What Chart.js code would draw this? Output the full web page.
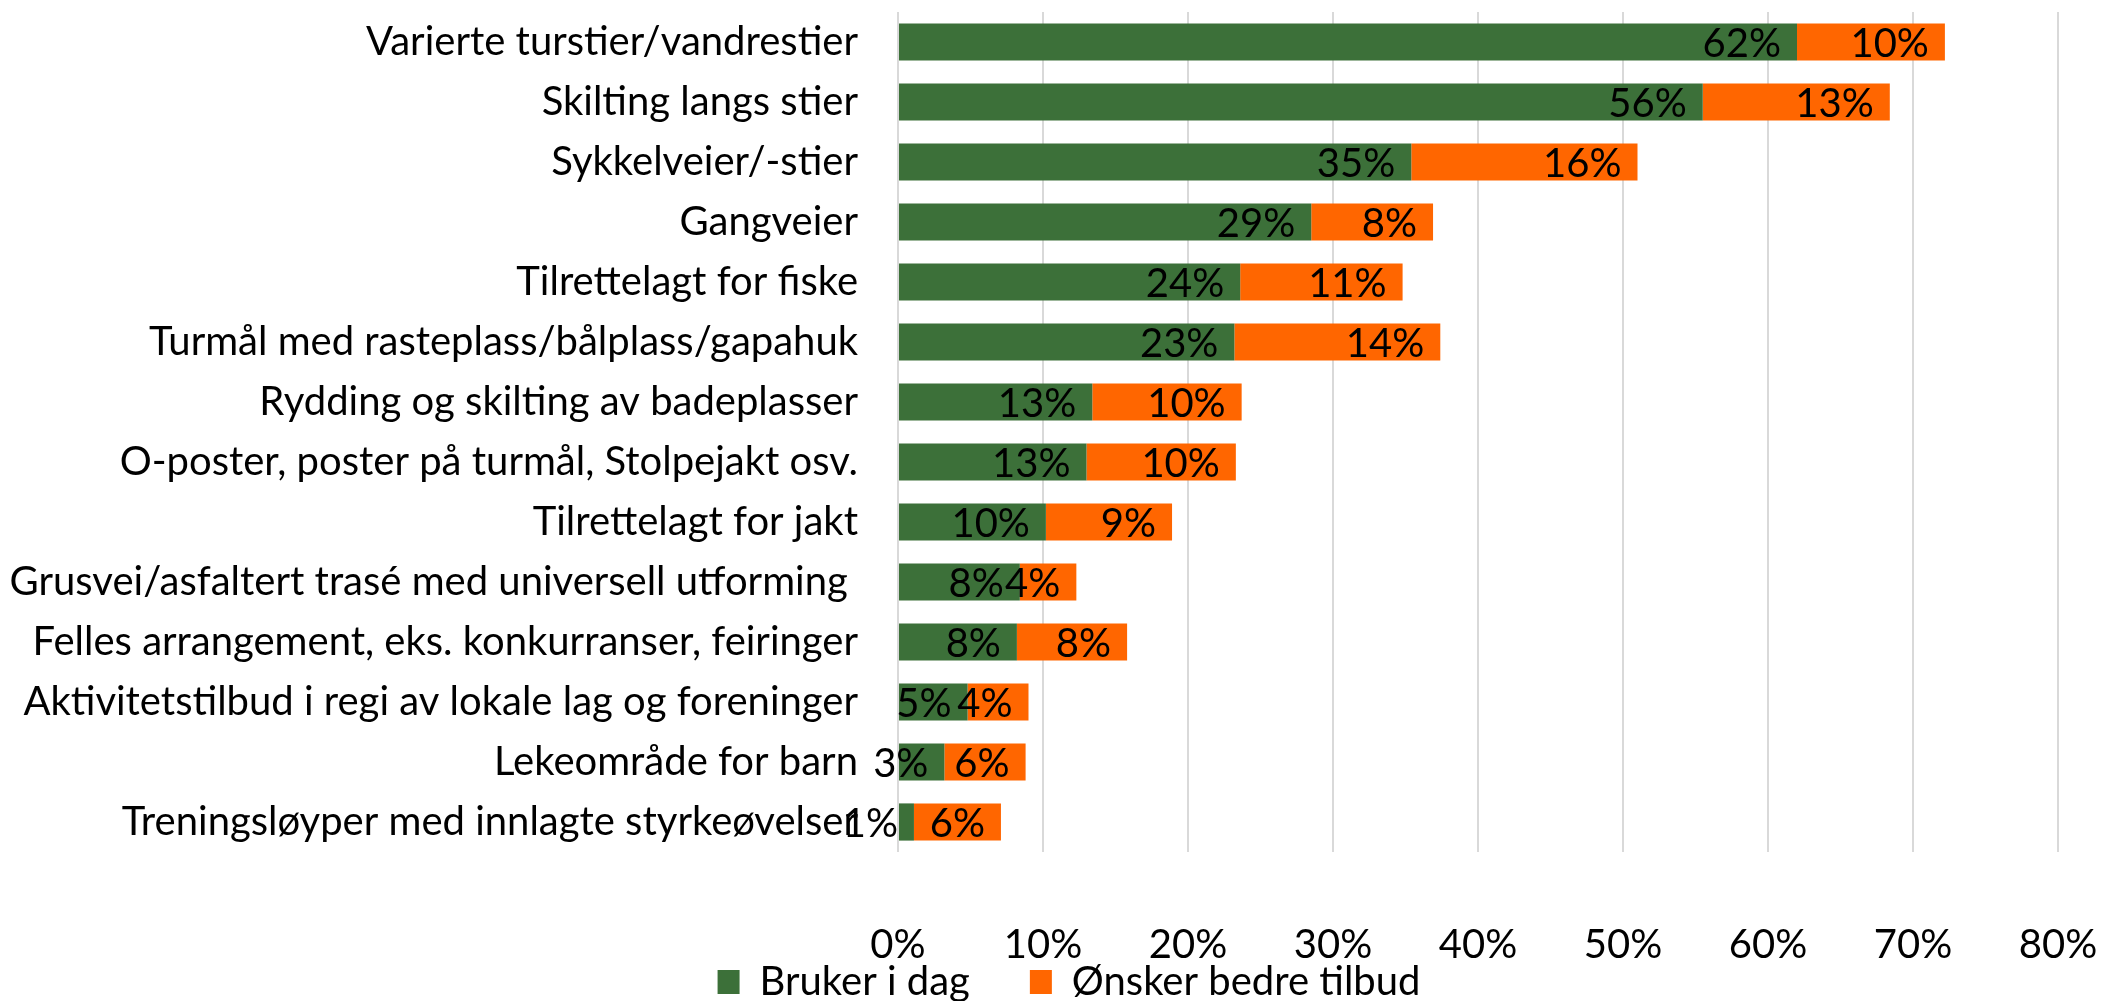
<!DOCTYPE html>
<html>
<head>
<meta charset="utf-8">
<script src="https://cdn.jsdelivr.net/npm/chart.js@4.4.1/dist/chart.umd.min.js"></script>
<style>
  html, body { margin: 0; padding: 0; background: #fff; }
  #wrap { width: 2101px; height: 1001px; }
</style>
</head>
<body>
<div id="wrap"><canvas id="chart" width="2101" height="1001"></canvas></div>
<script>
const categories = [
    'Varierte turstier/vandrestier',
    'Skilting langs stier',
    'Sykkelveier/-stier',
    'Gangveier',
    'Tilrettelagt for fiske',
    'Turmål med rasteplass/bålplass/gapahuk',
    'Rydding og skilting av badeplasser',
    'O-poster, poster på turmål, Stolpejakt osv.',
    'Tilrettelagt for jakt',
    'Grusvei/asfaltert trasé med universell utforming ',
    'Felles arrangement, eks. konkurranser, feiringer',
    'Aktivitetstilbud i regi av lokale lag og foreninger',
    'Lekeområde for barn',
    'Treningsløyper med innlagte styrkeøvelser'
];
const brukerIDag = [62.0, 55.5, 35.4, 28.5, 23.6, 23.2, 13.4, 13.0, 10.2, 8.4, 8.2, 4.8, 3.2, 1.1];
const onskerBedre = [10.2, 12.9, 15.6, 8.4, 11.2, 14.2, 10.3, 10.3, 8.7, 3.9, 7.6, 4.2, 5.6, 6.0];
const xTicks = [0, 10, 20, 30, 40, 50, 60, 70, 80];

const fontFamily = 'Lato, "Open Sans", sans-serif';
const fontSize = 40;

// values drawn at the inside end of every bar segment
const barLabels = {
    id: 'barLabels',
    afterDatasetsDraw(chart) {
        const ctx = chart.ctx;
        ctx.save();
        ctx.font = fontSize + 'px ' + fontFamily;
        ctx.fillStyle = '#000';
        ctx.textAlign = 'right';
        ctx.textBaseline = 'middle';
        chart.data.datasets.forEach((ds, i) => {
            chart.getDatasetMeta(i).data.forEach((bar, j) => {
                ctx.fillText(Math.round(ds.data[j]) + '%', bar.x - 16, bar.y + 2);
            });
        });
        ctx.restore();
    }
};

// legend padding gives the wide gap between items, pull the box back up
const legendNudge = {
    id: 'legendNudge',
    afterLayout(chart) {
        const lg = chart.legend;
        lg.top -= 67;
        lg.bottom -= 67;
        lg.left += 40;
        lg.right += 40;
    }
};

new Chart(document.getElementById('chart'), {
    type: 'bar',
    data: {
        labels: categories,
        datasets: [{
            label: 'Bruker i dag',
            data: brukerIDag,
            backgroundColor: '#3c7039',
            categoryPercentage: 0.62,
            barPercentage: 1
        }, {
            label: 'Ønsker bedre tilbud',
            data: onskerBedre,
            backgroundColor: '#ff6600',
            categoryPercentage: 0.62,
            barPercentage: 1
        }]
    },
    options: {
        indexAxis: 'y',
        responsive: false,
        animation: false,
        layout: {
            padding: { left: 0, right: 43, top: 12, bottom: -78 }
        },
        scales: {
            x: {
                stacked: true,
                min: 0,
                max: 80,
                afterBuildTicks: (scale) => {
                    scale.ticks = xTicks.map(v => ({ value: v }));
                },
                grid: {
                    color: '#d9d9d9',
                    lineWidth: 2,
                    drawTicks: true,
                    tickLength: 69,
                    tickColor: 'rgba(0,0,0,0)'
                },
                border: { display: false },
                ticks: {
                    padding: 0,
                    color: '#000',
                    font: { family: fontFamily, size: fontSize },
                    callback: (v) => v + '%'
                }
            },
            y: {
                stacked: true,
                afterFit: (scale) => {
                    scale.width = 898;
                },
                grid: { display: false, drawTicks: true, tickLength: 40 },
                border: { display: false },
                ticks: {
                    padding: 0,
                    autoSkip: false,
                    color: '#000',
                    font: { family: fontFamily, size: fontSize, lineHeight: 0.5 }
                }
            }
        },
        plugins: {
            legend: {
                position: 'bottom',
                labels: {
                    boxWidth: 22,
                    boxHeight: 24,
                    padding: 60,
                    color: '#000',
                    font: { family: fontFamily, size: fontSize }
                }
            },
            tooltip: { enabled: false }
        }
    },
    plugins: [barLabels, legendNudge]
});
</script>
</body>
</html>
